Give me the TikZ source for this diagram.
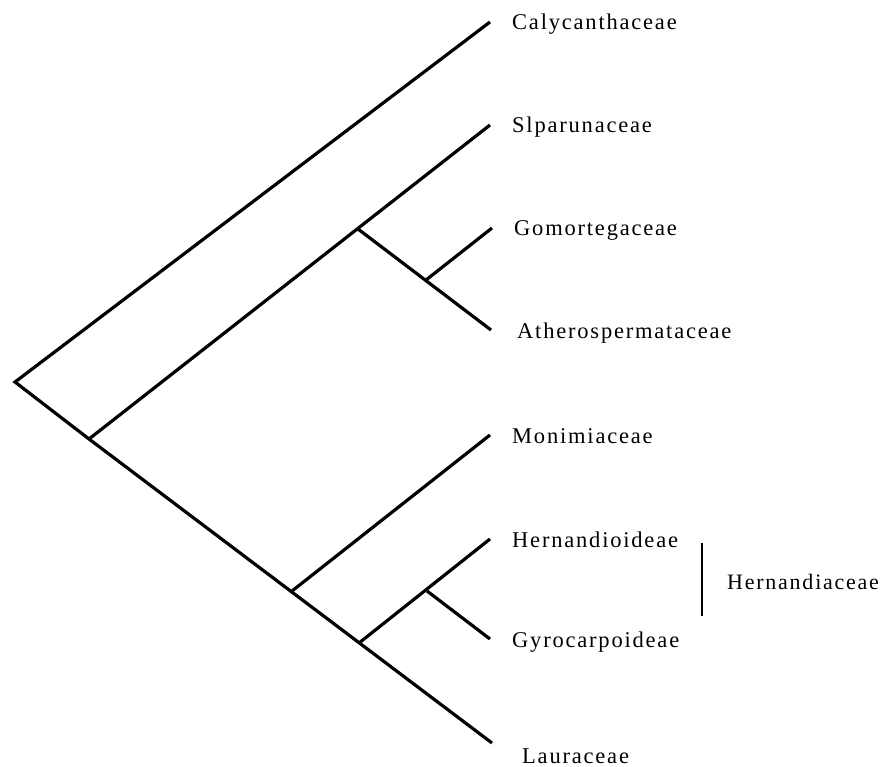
\documentclass[tikz,border=0pt]{standalone}
\usepackage{fontspec}
\setmainfont{Liberation Serif}[LetterSpace=8]
\usetikzlibrary{positioning}

\tikzset{
  branch/.style={line width=3.2pt, line join=miter},
  taxon/.style={inner sep=0pt, text height=16pt, text depth=0pt, font=\fontsize{22.5}{26}\selectfont}
}

\begin{document}
\begin{tikzpicture}[x=1pt, y=-1pt]
            \useasboundingbox (0,0) rectangle (886,767);
            % inner nodes of the tree
            \coordinate (root) at (15,382);
            \coordinate (n1) at (89,439);
            \coordinate (n2) at (358,229);
            \coordinate (n3) at (426,280);
            \coordinate (n4) at (292,591);
            \coordinate (n5) at (359,643);
            \coordinate (n6) at (427,591);
            % tips
            \coordinate (cal) at (490,22);
            \coordinate (sip) at (490,125);
            \coordinate (gom) at (492,228);
            \coordinate (ath) at (491,330);
            \coordinate (mon) at (490,435);
            \coordinate (her) at (490,539);
            \coordinate (gyr) at (490,639);
            \coordinate (lau) at (492,743);
            % branches
            \draw[branch] (cal) -- (root) -- (n1) -- (lau);
            \draw[branch] (n1) -- (sip);
            \draw[branch] (n2) -- (ath);
            \draw[branch] (n3) -- (gom);
            \draw[branch] (n4) -- (mon);
            \draw[branch] (n5) -- (her);
            \draw[branch] (n6) -- (gyr);
            % labels
            \foreach \tip/\name in {cal/Calycanthaceae, sip/Slparunaceae, gom/Gomortegaceae, mon/Monimiaceae, her/Hernandioideae, gyr/Gyrocarpoideae}
            {
                \node[taxon, anchor=west, right=22pt of \tip] (\tip-l) {\name};
            }
            \node[taxon, anchor=west, right=26pt of ath] (ath-l) {Atherospermataceae};
            \node[taxon, anchor=west, right=30pt of lau, yshift=-12pt] (lau-l) {Lauraceae};
            % family bar
            \coordinate (hb1) at (702,543);
            \coordinate (hb2) at (702,616);
            \coordinate (hbm) at (702,581);
            \draw[line width=2.6pt] (hb1) -- (hb2);
            \node[taxon, anchor=west, right=25pt of hbm, font=\fontsize{22}{26}\selectfont] (hern) {Hernandiaceae};
        \end{tikzpicture}
\end{document}
